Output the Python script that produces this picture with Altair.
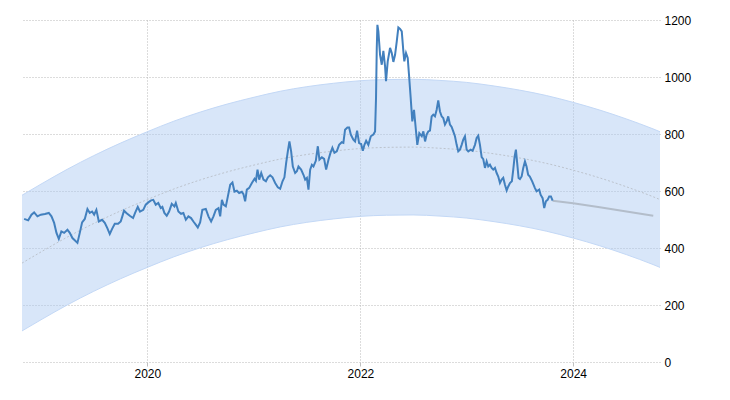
import altair as alt
import pandas as pd

# ---- main series (decimal year, value) ----
series_years = [
2018.842,2018.880,2018.911,2018.936,2018.967,2018.999,2019.037,2019.074,2019.099,2019.124,
2019.146,2019.168,2019.192,2019.218,2019.249,2019.271,2019.296,2019.318,2019.343,2019.365,
2019.387,2019.412,2019.437,2019.459,2019.481,2019.500,2019.521,2019.544,2019.575,2019.600,
2019.624,2019.647,2019.669,2019.694,2019.725,2019.750,2019.765,2019.781,2019.803,2019.835,
2019.866,2019.885,2019.910,2019.931,2019.962,2019.985,2020.009,2020.035,2020.056,2020.079,
2020.103,2020.126,2020.141,2020.160,2020.182,2020.204,2020.229,2020.254,2020.267,2020.291,
2020.316,2020.338,2020.361,2020.385,2020.410,2020.432,2020.454,2020.473,2020.495,2020.516,
2020.548,2020.573,2020.598,2020.620,2020.642,2020.667,2020.683,2020.699,2020.714,2020.736,
2020.755,2020.777,2020.798,2020.817,2020.839,2020.861,2020.886,2020.901,2020.917,2020.933,
2020.955,2020.980,2021.005,2021.018,2021.033,2021.049,2021.068,2021.089,2021.112,2021.131,
2021.152,2021.174,2021.199,2021.224,2021.246,2021.268,2021.286,2021.302,2021.318,2021.333,
2021.349,2021.365,2021.387,2021.403,2021.418,2021.443,2021.465,2021.481,2021.497,2021.512,
2021.528,2021.544,2021.559,2021.581,2021.600,2021.615,2021.638,2021.659,2021.678,2021.700,
2021.718,2021.737,2021.756,2021.778,2021.800,2021.825,2021.840,2021.856,2021.878,2021.894,
2021.910,2021.934,2021.950,2021.969,2021.988,2022.007,2022.023,2022.038,2022.054,2022.075,
2022.098,2022.122,2022.138,2022.147,2022.154,2022.160,2022.169,2022.185,2022.201,2022.216,
2022.232,2022.241,2022.257,2022.279,2022.295,2022.310,2022.326,2022.342,2022.357,2022.373,
2022.389,2022.404,2022.413,2022.429,2022.445,2022.457,2022.473,2022.488,2022.504,2022.520,
2022.535,2022.554,2022.577,2022.592,2022.608,2022.623,2022.638,2022.654,2022.670,2022.685,
2022.701,2022.717,2022.732,2022.748,2022.764,2022.779,2022.795,2022.811,2022.826,2022.842,
2022.858,2022.873,2022.889,2022.905,2022.920,2022.936,2022.952,2022.967,2022.983,2022.999,
2023.014,2023.037,2023.055,2023.077,2023.093,2023.108,2023.124,2023.140,2023.155,2023.171,
2023.187,2023.202,2023.218,2023.234,2023.249,2023.265,2023.281,2023.296,2023.312,2023.328,
2023.343,2023.359,2023.375,2023.390,2023.406,2023.424,2023.437,2023.450,2023.462,2023.474,
2023.487,2023.500,2023.516,2023.531,2023.547,2023.562,2023.577,2023.593,2023.615,2023.640,
2023.656,2023.681,2023.694,2023.713,2023.728,2023.744,2023.760,2023.775,2023.791,2023.807,
]
series_values = [
502,497,517,525,511,517,519,523,511,488,
453,432,458,453,464,453,435,427,418,453,
490,502,537,523,528,517,534,493,499,488,
470,449,467,485,485,493,511,531,523,513,
505,523,544,528,534,552,560,567,569,552,
558,540,544,523,513,528,555,546,558,528,
520,523,499,511,505,493,482,472,490,534,
537,511,493,511,534,540,511,569,552,546,
581,622,630,598,601,593,597,589,564,605,
611,628,643,636,675,640,663,640,634,648,
655,648,628,613,608,634,648,698,739,774,
739,686,663,669,686,675,657,640,646,605,
675,692,686,706,757,710,718,713,675,710,
733,752,734,739,762,771,769,815,823,823,
798,780,774,812,768,765,741,762,776,762,
792,798,809,926,1102,1183,1160,1078,1043,1092,
1037,985,1055,1102,1084,1053,1078,1125,1174,1169,
1160,1090,1055,1084,1067,1008,926,844,885,821,
762,803,792,809,774,798,809,812,862,868,
862,885,918,879,862,856,833,844,862,833,
825,809,792,762,739,745,762,780,792,745,
739,745,741,762,786,794,762,719,712,681,
704,686,692,681,675,681,663,651,628,640,
646,622,602,616,628,634,675,721,745,698,
646,642,651,681,704,686,657,651,634,611,
599,605,587,575,540,564,569,581,581,566,
]

# ---- forecast ----
forecast_years = [2023.807, 2024.0, 2024.25, 2024.5, 2024.751]
forecast_values = [566, 557, 543, 528, 513]

# ---- trend band ----
band_dates = ["2018-10-28", "2019-01-01", "2019-04-01", "2019-07-01", "2019-10-01",
              "2020-01-01", "2020-04-01", "2020-07-01", "2020-10-01",
              "2021-01-01", "2021-04-01", "2021-07-01", "2021-10-01",
              "2022-01-01", "2022-04-01", "2022-07-01", "2022-10-01",
              "2023-01-01", "2023-04-01", "2023-07-01", "2023-10-01",
              "2024-01-01", "2024-04-01", "2024-07-01", "2024-10-01", "2024-10-25"]
band_trend = [347, 386, 438, 486, 530, 570, 607, 639, 667, 691, 712, 728, 740,
              749, 753, 754, 750, 743, 731, 716, 697, 673, 646, 615, 580, 570]
band_upper = [585, 624, 676, 724, 768, 808, 845, 877, 905, 929, 950, 966, 978,
              987, 991, 992, 988, 981, 969, 954, 935, 911, 884, 853, 818, 808]
band_lower = [109, 148, 200, 248, 292, 332, 369, 401, 429, 453, 474, 490, 502,
              511, 515, 516, 512, 505, 493, 478, 459, 435, 408, 377, 342, 332]

y_ticks = [0, 200, 400, 600, 800, 1000, 1200]
x_tick_years = [2020, 2022, 2024]


def dec_to_ts(y):
    yr = int(y)
    start = pd.Timestamp(yr, 1, 1)
    end = pd.Timestamp(yr + 1, 1, 1)
    return start + (end - start) * (y - yr)


series_df = pd.DataFrame({"date": [dec_to_ts(y) for y in series_years], "value": series_values})
fc_df = pd.DataFrame({"date": [dec_to_ts(y) for y in forecast_years], "value": forecast_values})
band_df = pd.DataFrame({"date": pd.to_datetime(band_dates), "upper": band_upper,
                        "lower": band_lower, "trend": band_trend})

x_scale = alt.Scale(domain=[alt.DateTime(year=2018, month=10, date=28),
                            alt.DateTime(year=2024, month=10, date=25)])
y_scale = alt.Scale(domain=[0, 1200], nice=False)

x_axis = alt.Axis(values=[alt.DateTime(year=y, month=1, date=1) for y in x_tick_years],
                  format="%Y", title=None, grid=True, domain=False, tickSize=4,
                  tickColor="#c0c0c0", labelPadding=2, labelFlush=False)
y_axis = alt.Axis(values=y_ticks, format="d", orient="right", title=None, grid=True,
                  domain=False, ticks=False, labelAlign="left", labelBaseline="middle",
                  labelPadding=4)


def X():
    return alt.X("date:T", scale=x_scale, axis=x_axis)


def Y(field):
    return alt.Y(f"{field}:Q", scale=y_scale, axis=y_axis)


band = alt.Chart(band_df).mark_area(color="#a9c8f2", opacity=0.45, interpolate="monotone").encode(
    x=X(), y=Y("lower"), y2="upper:Q")
upper_edge = alt.Chart(band_df).mark_line(color="#c3d8f6", strokeWidth=1, interpolate="monotone").encode(
    x=X(), y=Y("upper"))
lower_edge = alt.Chart(band_df).mark_line(color="#c3d8f6", strokeWidth=1, interpolate="monotone").encode(
    x=X(), y=Y("lower"))
trend = alt.Chart(band_df).mark_line(color="#bcc3cd", strokeWidth=1, strokeDash=[2, 2],
                                     interpolate="monotone").encode(x=X(), y=Y("trend"))
forecast = alt.Chart(fc_df).mark_line(color="#b3bdca", strokeWidth=2).encode(x=X(), y=Y("value"))
main = alt.Chart(series_df).mark_line(color="#4280be", strokeWidth=2).encode(x=X(), y=Y("value"))

chart = alt.layer(band, upper_edge, lower_edge, trend, forecast, main).properties(
    width=638, height=342,
    autosize=alt.AutoSizeParams(type="none"),
    padding={"left": 14, "top": 12, "right": 60, "bottom": 30},
).configure_view(stroke=None).configure_axis(
    gridColor="#b8b8b8", gridDash=[1, 2], gridWidth=1,
    labelFont="Liberation Sans", labelFontSize=12, labelColor="#000000",
)

chart.save("out.html", embed_options={"renderer": "svg", "actions": False})
